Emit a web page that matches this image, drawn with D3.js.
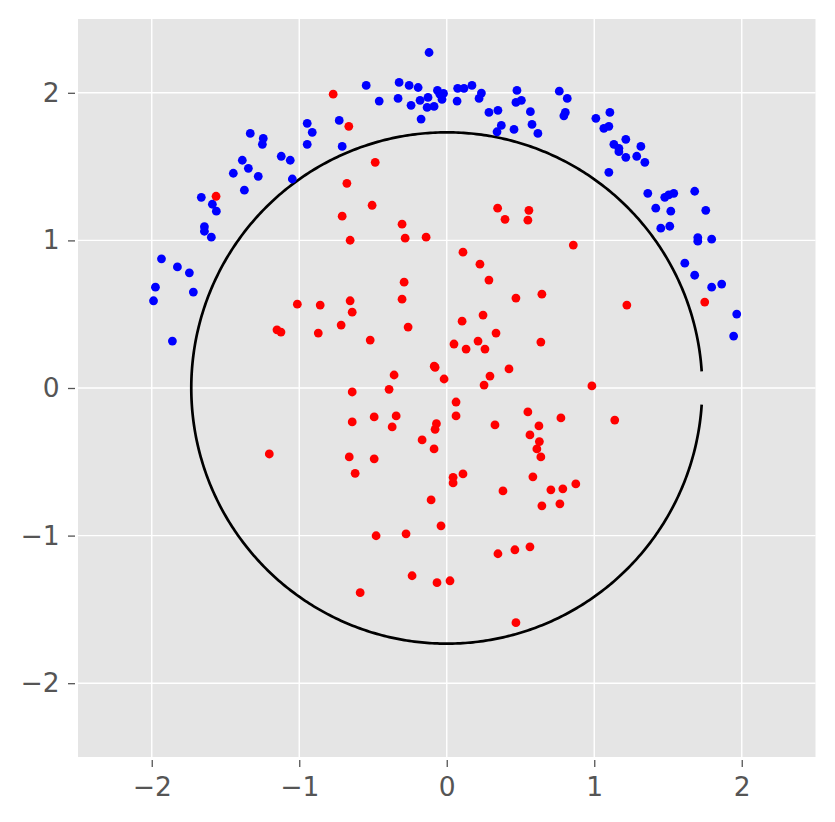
<!DOCTYPE html>
<html>
<head>
<meta charset="utf-8">
<script src="https://cdn.jsdelivr.net/npm/d3@7"></script>
<style>
  body { margin: 0; background: #fff; }
  svg { display: block; }
  .tick text { font-family: "DejaVu Sans", sans-serif; }
</style>
</head>
<body>
<div id="chart"></div>
<script>
// outside points (blue)
var blueX = [-1.988,-1.975,-1.934,-1.860,-1.826,-1.745,-1.718,-1.664,-1.643,-1.643,-1.596,-1.589,-1.562,-1.447,-1.386,-1.372,-1.345,-1.332,-1.278,-1.250,-1.244,-1.122,-1.061,-1.047,-0.946,-0.912,-0.946,-0.729,-0.709,-0.546,-0.458,-0.323,-0.330,-0.255,-0.242,-0.194,-0.181,-0.174,-0.133,-0.127,-0.120,-0.086,-0.063,-0.047,-0.022,-0.032,0.070,0.074,0.117,0.171,0.219,0.235,0.286,0.341,0.347,0.370,0.456,0.469,0.476,0.506,0.567,0.578,0.618,0.763,0.794,0.804,0.817,1.011,1.065,1.099,1.106,1.099,1.133,1.167,1.167,1.214,1.214,1.288,1.316,1.343,1.363,1.417,1.451,1.478,1.505,1.512,1.519,1.539,1.614,1.681,1.681,1.702,1.702,1.756,1.796,1.796,1.864,1.945,1.966];
var blueY = [0.591,0.683,0.875,0.318,0.820,0.780,0.650,1.292,1.093,1.062,1.022,1.245,1.198,1.455,1.543,1.340,1.488,1.725,1.434,1.651,1.691,1.570,1.543,1.416,1.793,1.732,1.651,1.813,1.637,2.050,1.944,2.070,1.962,2.050,1.915,2.036,1.949,1.822,1.901,1.969,2.273,1.908,2.016,1.991,1.996,1.955,1.944,2.030,2.030,2.050,1.962,1.998,1.867,1.736,1.881,1.779,1.752,1.935,2.016,1.949,1.872,1.786,1.725,2.011,1.844,1.867,1.962,1.827,1.759,1.773,1.867,1.461,1.651,1.624,1.601,1.685,1.563,1.570,1.637,1.529,1.319,1.218,1.083,1.292,1.308,1.096,1.198,1.319,0.846,1.333,0.764,1.019,0.995,1.204,1.008,0.683,0.704,0.352,0.501];

// inside points (red)
var redX = [-1.564,1.749,-0.770,-0.664,-0.485,-0.677,-0.506,-0.709,-0.303,-0.655,-0.282,-0.140,0.345,0.395,0.557,0.550,0.110,0.225,0.858,-1.013,-0.858,-1.151,-1.124,-0.871,-1.203,0.286,-0.289,-0.655,-0.641,-0.303,0.469,0.645,-0.716,-0.262,0.104,0.246,-0.519,0.334,0.049,0.131,0.212,0.259,0.638,-0.085,-0.079,-0.357,-0.018,0.422,0.293,0.253,-0.391,-0.641,0.063,0.063,0.550,0.774,-0.641,-0.492,-0.343,-0.370,-0.070,-0.079,0.327,0.625,0.564,0.628,0.611,0.638,-0.167,-0.086,-0.661,-0.492,-0.621,0.043,0.043,0.110,0.584,0.381,0.706,0.787,0.875,-0.106,0.645,0.767,0.984,1.139,1.221,-0.039,-0.479,-0.276,0.347,0.462,0.564,-0.235,-0.066,0.022,-0.587,0.469];
var redY = [1.299,0.582,1.991,1.773,1.529,1.387,1.238,1.164,1.110,1.001,1.015,1.022,1.218,1.143,1.204,1.137,0.920,0.839,0.968,0.568,0.562,0.394,0.379,0.372,-0.447,0.731,0.717,0.591,0.514,0.602,0.609,0.636,0.426,0.413,0.453,0.494,0.325,0.372,0.298,0.264,0.318,0.264,0.311,0.148,0.140,0.088,0.061,0.129,0.081,0.020,-0.009,-0.027,-0.095,-0.189,-0.162,-0.203,-0.230,-0.196,-0.189,-0.264,-0.242,-0.280,-0.250,-0.257,-0.318,-0.363,-0.413,-0.467,-0.352,-0.413,-0.467,-0.480,-0.578,-0.605,-0.643,-0.582,-0.602,-0.697,-0.690,-0.683,-0.650,-0.758,-0.798,-0.785,0.014,-0.217,0.562,-0.934,-1.001,-0.988,-1.123,-1.096,-1.076,-1.272,-1.319,-1.306,-1.387,-1.590];

var tickValues = [-2, -1, 0, 1, 2];
var radius = Math.sqrt(3);
var gap = 0.065; // open part of the boundary on the right

var width = 835, height = 822;
var svg = d3.select("#chart").append("svg")
  .attr("width", width)
  .attr("height", height);

var x = d3.scaleLinear().domain([-2.5, 2.5]).range([78, 815.5]);
var y = d3.scaleLinear().domain([-2.5, 2.5]).range([757, 19]);

// background
svg.append("rect")
  .attr("x", x(-2.5)).attr("y", y(2.5))
  .attr("width", x(2.5) - x(-2.5))
  .attr("height", y(-2.5) - y(2.5))
  .attr("fill", "#e5e5e5");

// grid
svg.append("g").selectAll("line.vx")
  .data(tickValues).enter().append("line")
  .attr("x1", d => x(d)).attr("x2", d => x(d))
  .attr("y1", y(2.5)).attr("y2", y(-2.5))
  .attr("stroke", "#fff").attr("stroke-width", 1.4);
svg.append("g").selectAll("line.hy")
  .data(tickValues).enter().append("line")
  .attr("y1", d => y(d)).attr("y2", d => y(d))
  .attr("x1", x(-2.5)).attr("x2", x(2.5))
  .attr("stroke", "#fff").attr("stroke-width", 1.4);

// axes
var fmt = d => d3.format("")(d).replace("-", "\u2212");
var xAxis = svg.append("g")
  .attr("transform", "translate(0," + (y(-2.5) + 3) + ")")
  .call(d3.axisBottom(x).tickValues(tickValues).tickFormat(fmt).tickSize(7).tickPadding(10));
var yAxis = svg.append("g")
  .attr("transform", "translate(" + (x(-2.5) - 3) + ",0)")
  .call(d3.axisLeft(y).tickValues(tickValues).tickFormat(fmt).tickSize(7).tickPadding(8.5));
[xAxis, yAxis].forEach(function(a) {
  a.select(".domain").remove();
  a.selectAll(".tick line").attr("stroke", "#555").attr("stroke-width", 1.3);
  a.selectAll(".tick text").attr("fill", "#555").style("font-size", "26.5px");
});

// decision boundary
var angles = d3.range(gap, 2 * Math.PI - gap, 0.01).concat([2 * Math.PI - gap]);
svg.append("path")
  .datum(angles)
  .attr("fill", "none")
  .attr("stroke", "#000")
  .attr("stroke-width", 2.7)
  .attr("d", d3.line()
    .x(a => x(radius * Math.cos(a)))
    .y(a => y(radius * Math.sin(a))));

// points
svg.append("g").selectAll("circle")
  .data(blueX.map((v, i) => [v, blueY[i]]))
  .enter().append("circle")
  .attr("cx", d => x(d[0])).attr("cy", d => y(d[1]))
  .attr("r", 4.4).attr("fill", "#0000ff");
svg.append("g").selectAll("circle")
  .data(redX.map((v, i) => [v, redY[i]]))
  .enter().append("circle")
  .attr("cx", d => x(d[0])).attr("cy", d => y(d[1]))
  .attr("r", 4.4).attr("fill", "#ff0000");
</script>
</body>
</html>
